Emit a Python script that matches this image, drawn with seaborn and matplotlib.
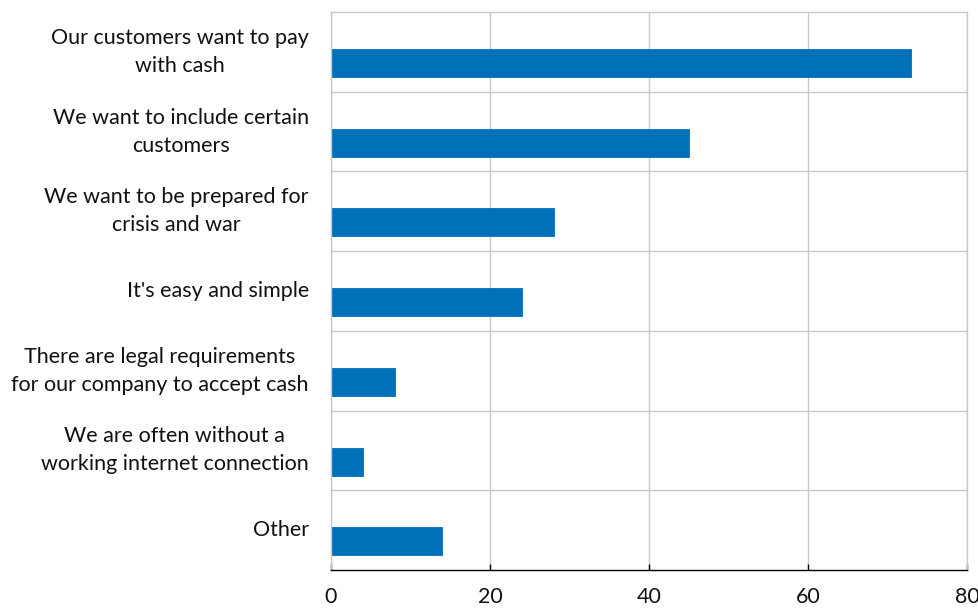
import matplotlib
matplotlib.use("Agg")
import matplotlib.pyplot as plt
import seaborn as sns
import pandas as pd
import numpy as np

categories = [
    "Our customers want to pay\nwith cash",
    "We want to include certain\ncustomers",
    "We want to be prepared for\ncrisis and war",
    "It's easy and simple",
    "There are legal requirements\nfor our company to accept cash",
    "We are often without a\nworking internet connection",
    "Other",
]
values = [73, 45, 28, 24, 8, 4, 14]
x_ticks = [0, 20, 40, 60, 80]

sns.set_theme(style="white")
plt.rcParams["font.family"] = ["Lato", "DejaVu Sans"]

df = pd.DataFrame({"reason": categories, "share": values})

fig = plt.figure(figsize=(9.79, 6.08), dpi=100)
ax = fig.add_axes([331 / 979, 1 - 570 / 608, (967 - 331) / 979, (570 - 12) / 608])

bar_color = "#0070B8"
sns.barplot(data=df, y="reason", x="share", orient="y", color=bar_color,
            width=0.35, saturation=1, edgecolor=bar_color, linewidth=0.6, ax=ax)

# bars sit in the lower half of each band
for p in ax.patches:
    p.set_y(p.get_y() + 0.14)

ax.set_xlim(0, 80)
ax.set_ylim(len(categories) - 0.5, -0.5)
ax.set_xticks(x_ticks)
ax.set_xticklabels([str(t) for t in x_ticks], fontsize=15.5, color="#111111")
ax.set_yticks(range(len(categories)))
ax.set_yticklabels(categories, fontsize=15.5, color="#111111", ha="right",
                   va="center", multialignment="center")
for lbl in ax.get_yticklabels():
    lbl.set_linespacing(1.5)
ax.set_yticks(np.arange(0.5, len(categories) - 0.5, 1), minor=True)

ax.set_xlabel("")
ax.set_ylabel("")

grid_color = "#C8C8C8"
ax.grid(False)
ax.xaxis.grid(True, color=grid_color, linewidth=1)
ax.yaxis.grid(True, which="minor", color=grid_color, linewidth=1)
ax.set_axisbelow(True)

for side in ["top", "right", "left"]:
    ax.spines[side].set_visible(True)
    ax.spines[side].set_color(grid_color)
    ax.spines[side].set_linewidth(1)
ax.spines["bottom"].set_color("black")
ax.spines["bottom"].set_linewidth(1)

ax.tick_params(axis="y", which="both", length=0, pad=16)
ax.tick_params(axis="x", which="major", direction="in", length=4, width=1,
               color="black", pad=12, bottom=True)

fig.savefig("out.png", dpi=100)
